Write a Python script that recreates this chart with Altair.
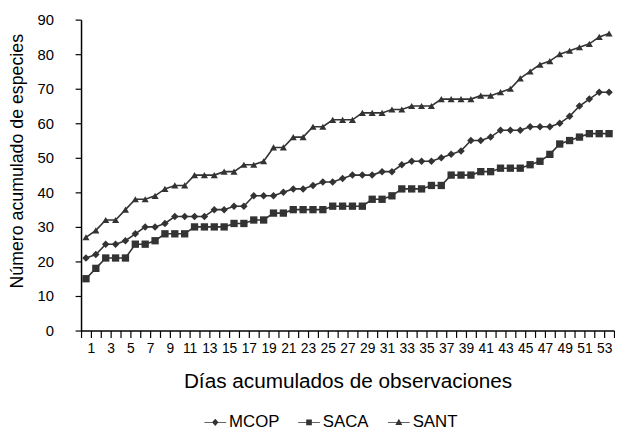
import altair as alt
import pandas as pd

# ---- data ----
days = list(range(1, 55))
series_names = ["MCOP", "SACA", "SANT"]
mcop = [21, 22, 25, 25, 26, 28, 30, 30, 31, 33, 33,
        33, 33, 35, 35, 36, 36, 39, 39, 39, 40,
        41, 41, 42, 43, 43, 44, 45, 45, 45, 46,
        46, 48, 49, 49, 49, 50, 51, 52, 55, 55,
        56, 58, 58, 58, 59, 59, 59, 60, 62, 65, 67, 69, 69]
saca = [15, 18, 21, 21, 21, 25, 25, 26, 28, 28, 28,
        30, 30, 30, 30, 31, 31, 32, 32, 34, 34,
        35, 35, 35, 35, 36, 36, 36, 36, 38, 38,
        39, 41, 41, 41, 42, 42, 45, 45, 45, 46,
        46, 47, 47, 47, 48, 49, 51, 54, 55, 56, 57, 57, 57]
sant = [27, 29, 32, 32, 35, 38, 38, 39, 41, 42, 42,
        45, 45, 45, 46, 46, 48, 48, 49, 53, 53,
        56, 56, 59, 59, 61, 61, 61, 63, 63, 63,
        64, 64, 65, 65, 65, 67, 67, 67, 67, 68,
        68, 69, 70, 73, 75, 77, 78, 80, 81, 82, 83, 85, 86]
y_ticks = [0, 10, 20, 30, 40, 50, 60, 70, 80, 90]

rows = []
for name, vals in zip(series_names, [mcop, saca, sant]):
    for d, v in zip(days, vals):
        rows.append({"day": d, "value": v, "series": name})
df = pd.DataFrame(rows)

ink = "#333333"
font = "Liberation Sans"
narrow = "Liberation Sans Narrow, Liberation Sans"

# tick marks sit on the boundaries between days, odd labels as in the reference
x_tick_values = [d - 0.5 for d in days] + [days[-1] + 0.5]
label_expr = "(datum.value - 0.5) % 2 == 1 ? format(datum.value - 0.5, 'd') : ''"

x_enc = alt.X(
    "day:Q",
    scale=alt.Scale(domain=[0.5, 54.5], nice=False, zero=False),
    axis=alt.Axis(
        values=x_tick_values, labelExpr=label_expr, labelOverlap=False,
        title="Días acumulados de observaciones", grid=False,
        tickSize=7, tickColor="black", domainColor="black", domainWidth=1.5, tickWidth=1.2,
        labelFont=narrow, labelFontSize=14, labelColor="black", labelPadding=4,
        labelFlush=False,
        titleFont=font, titleFontSize=21, titleFontWeight="normal", titleColor="black",
        titlePadding=16,
    ),
)
y_enc = alt.Y(
    "value:Q",
    scale=alt.Scale(domain=[0, 90], nice=False),
    axis=alt.Axis(
        values=y_ticks, grid=False, title="Número acumulado de especies",
        tickSize=6, tickColor="black", domainColor="black", domainWidth=1.5, tickWidth=1.2,
        labelFont=font, labelFontSize=15, labelColor="black", labelPadding=22,
        titleFont=font, titleFontSize=18, titleFontWeight="normal", titleColor="black",
        titlePadding=11, titleY=143,
    ),
)

base = alt.Chart(df)

lines = base.mark_line(color=ink, strokeWidth=1.6).encode(
    x=x_enc, y=y_enc, detail="series:N", order="day:Q"
)

points = base.mark_point(filled=True, color=ink, opacity=1).encode(
    x=x_enc, y=y_enc,
    shape=alt.Shape(
        "series:N",
        scale=alt.Scale(domain=series_names, range=["diamond", "square", "triangle-up"]),
        legend=None,
    ),
    size=alt.Size(
        "series:N",
        scale=alt.Scale(domain=series_names, range=[58, 52, 80]),
        legend=None,
    ),
)

# legend symbols: a short line with the series marker on it
bar = "M-1,-0.035H1V0.035H-1Z"
legend_paths = [
    bar + "M0,-0.33L0.3,0L0,0.33L-0.3,0Z",
    bar + "M-0.26,-0.26H0.26V0.26H-0.26Z",
    bar + "M0,-0.32L0.32,0.24L-0.32,0.24Z",
]
legend_layer = base.mark_point(filled=True, color=ink, size=1, opacity=0).encode(
    x=x_enc, y=y_enc,
    shape=alt.Shape(
        "series:N",
        scale=alt.Scale(domain=series_names, range=legend_paths),
        legend=alt.Legend(
            title=None, orient="none", direction="horizontal",
            legendX=124, legendY=396,
            symbolSize=484, symbolFillColor=ink, symbolOpacity=1,
            labelFont=narrow, labelFontSize=17, labelColor="black",
            labelOffset=2, columnPadding=16,
        ),
    ),
)

chart = (
    alt.layer(lines, points, legend_layer)
    .resolve_scale(shape="independent")
    .properties(
        width=540, height=315,
        autosize=alt.AutoSizeParams(type="none"),
        padding={"left": 74, "top": 9, "right": 1, "bottom": 100},
    )
    .configure_view(stroke=None)
)

chart.save("out.html", embed_options={"renderer": "svg", "actions": False})
